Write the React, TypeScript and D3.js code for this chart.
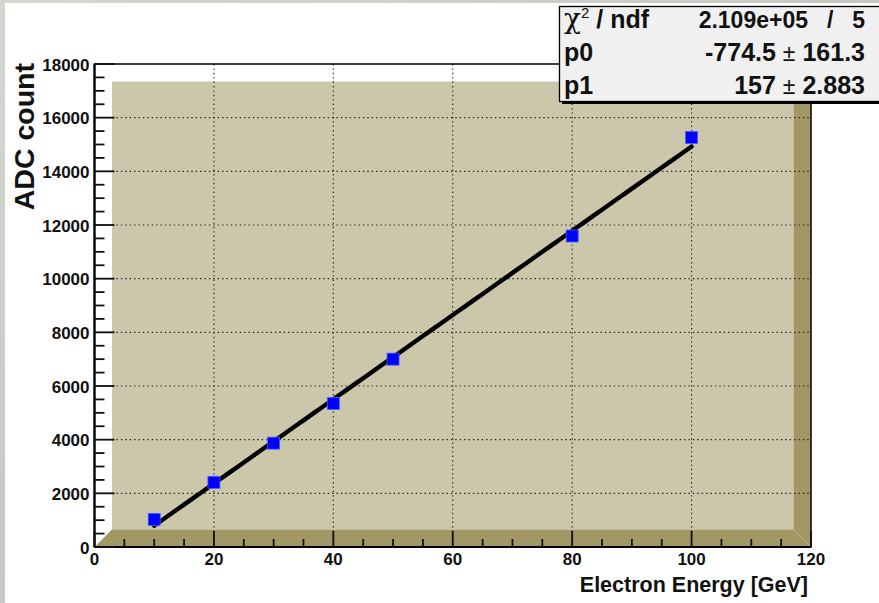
import React from "react";
import * as d3 from "d3";

// Beam-test linearity scan: ADC response versus electron energy
const energies = [10, 20, 30, 40, 50, 80, 100];
const adcCounts = [1030, 2410, 3870, 5350, 7000, 11590, 15260];

const xTickValues = [0, 20, 40, 60, 80, 100, 120];
const yTickValues = [0, 2000, 4000, 6000, 8000, 10000, 12000, 14000, 16000, 18000];

// Linear fit pol1: p0 + p1 * E, evaluated over the fitted range
const fitP0 = -774.5;
const fitP0Err = 161.3;
const fitP1 = 157;
const fitP1Err = 2.883;
const fitRange = [10, 100];
const chi2Text = "2.109e+05";
const ndf = 5;

const W = 879;
const H = 603;
const FONT = "'Liberation Sans', Arial, Helvetica, sans-serif";

export default function App() {
  const fx0 = 94.5, fx1 = 811, fy0 = 64, fy1 = 547;
  const bevel = 17.5;
  const x = d3.scaleLinear().domain([0, 120]).range([fx0, fx1]);
  const y = d3.scaleLinear().domain([0, 18000]).range([fy1, fy0]);

  const xMinor = d3.range(0, 120.001, 5).filter((v) => v % 20 !== 0);
  const yMinor = d3.range(0, 18000.001, 500).filter((v) => v % 2000 !== 0);

  const fitLine = d3
    .line<number>()
    .x((e) => x(e))
    .y((e) => y(fitP0 + fitP1 * e));
  const fitPts = d3.range(fitRange[0], fitRange[1] + 0.001, 1);

  const light = "#ccc7ab";
  const dark = "#a29866";

  return (
    <svg
      width={W}
      height={H}
      style={{ position: "absolute", left: 0, top: 0, display: "block" }}
      fontFamily={FONT}
    >
      <defs>
        <linearGradient id="marble" x1="0" y1="0" x2="1" y2="1">
          <stop offset="0" stopColor="#d4d6d0" />
          <stop offset="0.5" stopColor="#c6c8c2" />
          <stop offset="1" stopColor="#d8d9d4" />
        </linearGradient>
      </defs>
      <rect x={0} y={0} width={W} height={H} fill="url(#marble)" />
      <rect x={5} y={3} width={W - 5} height={H - 3} fill="#ffffff" />

      {/* 3D frame: lit top/left, shaded bottom/right */}
      <rect x={fx0} y={fy0} width={fx1 - fx0} height={fy1 - fy0} fill="#ffffff" />
      <rect
        x={fx0 + bevel}
        y={fy0 + bevel}
        width={fx1 - fx0 - 2 * bevel}
        height={fy1 - fy0 - 2 * bevel}
        fill={light}
      />
      <polygon
        points={`${fx0},${fy1} ${fx0 + bevel},${fy1 - bevel} ${fx1 - bevel},${fy1 - bevel} ${fx1},${fy1}`}
        fill={dark}
      />
      <polygon
        points={`${fx1},${fy1} ${fx1 - bevel},${fy1 - bevel} ${fx1 - bevel},${fy0 + bevel} ${fx1},${fy0}`}
        fill={dark}
      />

      {/* grid */}
      <g stroke="#222" strokeWidth={1.1} strokeDasharray="1.4,3">
        {xTickValues
          .filter((v) => v > 0 && v < 120)
          .map((v) => (
            <line key={"gx" + v} x1={x(v)} x2={x(v)} y1={fy0} y2={fy1} />
          ))}
        {yTickValues
          .filter((v) => v > 0 && v < 18000)
          .map((v) => (
            <line key={"gy" + v} x1={fx0} x2={fx1} y1={y(v)} y2={y(v)} />
          ))}
      </g>

      {/* frame outline */}
      <rect
        x={fx0}
        y={fy0}
        width={fx1 - fx0}
        height={fy1 - fy0}
        fill="none"
        stroke="#000"
        strokeWidth={1.5}
      />
      <line x1={fx0} x2={fx0} y1={fy0} y2={fy1} stroke="#000" strokeWidth={2.2} />
      <line x1={fx0} x2={fx1} y1={fy1} y2={fy1} stroke="#000" strokeWidth={2.2} />

      {/* ticks */}
      <g stroke="#111" strokeWidth={1.8}>
        {xTickValues.map((v) => (
          <line key={"tx" + v} x1={x(v)} x2={x(v)} y1={fy1} y2={fy1 - 16} />
        ))}
        {xMinor.map((v) => (
          <line key={"mx" + v} x1={x(v)} x2={x(v)} y1={fy1} y2={fy1 - 8} />
        ))}
        {yTickValues.map((v) => (
          <line key={"ty" + v} x1={fx0} x2={fx0 + 20} y1={y(v)} y2={y(v)} />
        ))}
        {yMinor.map((v) => (
          <line key={"my" + v} x1={fx0} x2={fx0 + 10} y1={y(v)} y2={y(v)} />
        ))}
      </g>

      {/* tick labels */}
      <g fontWeight="bold" fontSize={17} fill="#111">
        {xTickValues.map((v) => (
          <text key={"lx" + v} x={x(v)} y={fy1 + 18} textAnchor="middle">
            {v}
          </text>
        ))}
        {yTickValues.map((v) => (
          <text key={"ly" + v} x={89.5} y={y(v) + 6.5} textAnchor="end">
            {v}
          </text>
        ))}
      </g>

      {/* axis titles */}
      <text
        x={808}
        y={592}
        textAnchor="end"
        fontWeight="bold"
        fontSize={21.5}
        fill="#111"
      >
        Electron Energy [GeV]
      </text>
      <text
        transform="translate(33.5,63) rotate(-90)"
        textAnchor="end"
        fontWeight="bold"
        fontSize={28.5}
        fill="#111"
      >
        ADC count
      </text>

      {/* fit function */}
      <path
        d={fitLine(fitPts) || ""}
        fill="none"
        stroke="#000"
        strokeWidth={4.4}
        strokeLinecap="round"
      />

      {/* measured points */}
      <g>
        {energies.map((e, i) => (
          <rect
            key={"p" + e}
            x={x(e) - 6}
            y={y(adcCounts[i]) - 6}
            width={12}
            height={12}
            fill="#0000ff"
            stroke="#4a5cff"
            strokeWidth={0.8}
          />
        ))}
      </g>

      {/* fit statistics box */}
      <rect x={562} y={9} width={330} height={95} fill="#000" />
      <rect
        x={559.5}
        y={6.5}
        width={330}
        height={95}
        fill="#f0f0f0"
        stroke="#000"
        strokeWidth={1.3}
      />
      <g fontWeight="bold" fontSize={25} fill="#111">
        <text x={564} y={28}>
          <tspan fontWeight="normal" fontSize={28} fontFamily="'DejaVu Serif', serif">χ</tspan>
          <tspan dy={-10} fontSize={15} fontWeight="normal">2</tspan>
          <tspan dy={10}> / ndf</tspan>
        </text>
        <text x={808} y={28} textAnchor="end" fontSize={23}>
          {chi2Text}
        </text>
        <text x={827} y={28} fontSize={23}>/</text>
        <text x={865} y={28} textAnchor="end" fontSize={23}>
          {ndf}
        </text>

        <text x={564} y={61}>p0</text>
        <text x={865} y={61} textAnchor="end">
          {fitP0.toFixed(1) + " "}
          <tspan fontWeight="normal" fontSize={23}>±</tspan>
          {" " + fitP0Err.toFixed(1)}
        </text>

        <text x={564} y={94}>p1</text>
        <text x={865} y={94} textAnchor="end">
          {String(fitP1) + " "}
          <tspan fontWeight="normal" fontSize={23}>±</tspan>
          {" " + fitP1Err.toFixed(3)}
        </text>
      </g>
    </svg>
  );
}
